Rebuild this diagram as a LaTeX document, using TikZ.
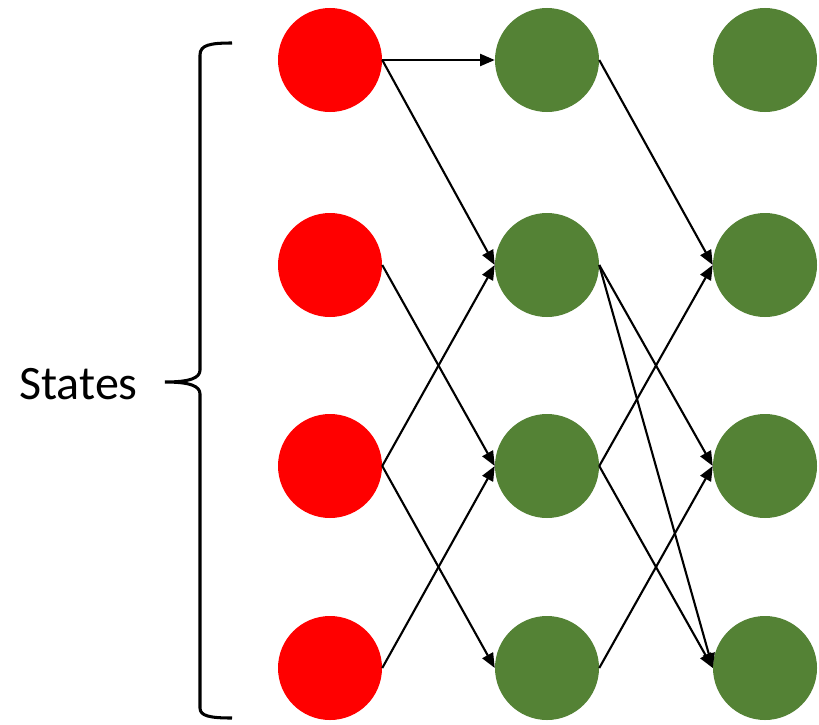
\documentclass[tikz,border=0pt]{standalone}
\usepackage{fontspec}
\setmainfont{Carlito}
\usetikzlibrary{arrows.meta}
\definecolor{stred}{HTML}{FF0000}
\definecolor{stgreen}{HTML}{548235}
\begin{document}
\begin{tikzpicture}[x=0.03cm,y=-0.03cm,
  redstate/.style={circle,fill=stred,minimum size=3.12cm,inner sep=0pt,draw=none},
  greenstate/.style={circle,fill=stgreen,minimum size=3.12cm,inner sep=0pt,draw=none},
  link/.style={line width=1.8pt,-{Triangle[length=0.44cm,width=0.36cm]}},
  bracestyle/.style={line width=2.6pt}]
\useasboundingbox (0,0) rectangle (819,724);
% column 1
\node[redstate] (a1) at (330,60) {};
\node[redstate] (a2) at (330,265) {};
\node[redstate] (a3) at (330,466) {};
\node[redstate] (a4) at (330,668) {};
% column 2
\node[greenstate] (b1) at (547,60) {};
\node[greenstate] (b2) at (547,265) {};
\node[greenstate] (b3) at (547,466) {};
\node[greenstate] (b4) at (547,668) {};
% column 3
\node[greenstate] (c1) at (765,60) {};
\node[greenstate] (c2) at (765,265) {};
\node[greenstate] (c3) at (765,466) {};
\node[greenstate] (c4) at (765,668) {};
% links
\draw[link] (a1.east) -- (b1.west);
\draw[link] (a1.east) -- (b2.west);
\draw[link] (a2.east) -- (b3.west);
\draw[link] (a3.east) -- (b2.west);
\draw[link] (a3.east) -- (b4.west);
\draw[link] (a4.east) -- (b3.west);
\draw[link] (b1.east) -- (c2.west);
\draw[link] (b2.east) -- (c3.west);
\draw[link] (b2.east) -- (c4.west);
\draw[link] (b3.east) -- (c2.west);
\draw[link] (b3.east) -- (c4.west);
\draw[link] (b4.east) -- (c3.west);
% brace
\draw[bracestyle] (232,43) .. controls (210,43) and (200,45) .. (200,55)
  -- (200,370) .. controls (200,378) and (190,382) .. (165,382)
  .. controls (190,382) and (200,386) .. (200,394)
  -- (200,708) .. controls (200,716) and (210,718) .. (232,718);
\node[anchor=east,font=\fontsize{41pt}{48pt}\selectfont,inner sep=0pt] (states) at (138,384) {States};
\end{tikzpicture}
\end{document}
